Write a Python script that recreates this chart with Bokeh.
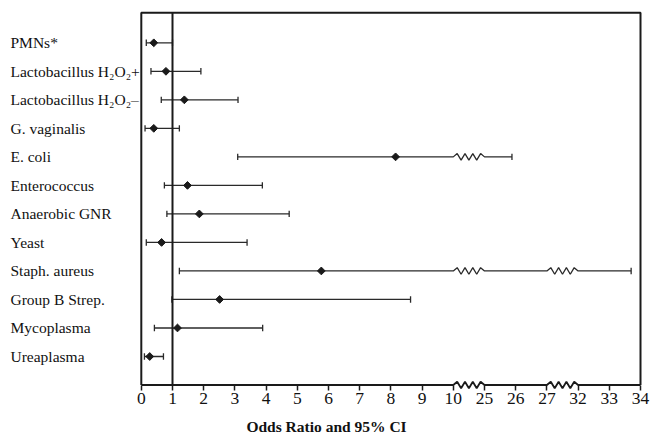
from bokeh.plotting import figure
from bokeh.models import Range1d, FixedTicker, ColumnDataSource, Title
from bokeh.embed import file_html
from bokeh.resources import INLINE
from bokeh.core.properties import value

# ---- data ----
categories = ["PMNs*", "Lactobacillus H\u2082O\u2082+", "Lactobacillus H\u2082O\u2082\u2013",
              "G. vaginalis", "E. coli", "Enterococcus", "Anaerobic GNR", "Yeast",
              "Staph. aureus", "Group B Strep.", "Mycoplasma", "Ureaplasma"]
odds_ratio = [0.40, 0.79, 1.38, 0.40, 8.15, 1.48, 1.86, 0.65, 5.77, 2.51, 1.16, 0.27]
ci_lower = [0.16, 0.31, 0.64, 0.12, 3.09, 0.74, 0.82, 0.16, 1.22, 0.98, 0.42, 0.10]
ci_upper = [1.00, 1.91, 3.10, 1.22, 25.88, 3.88, 4.74, 3.39, 33.70, 8.63, 3.89, 0.71]
tick_values = [0, 1, 2, 3, 4, 5, 6, 7, 8, 9, 10, 25, 26, 27, 32, 33, 34]
tick_labels = ["0", "1", "2", "3", "4", "5", "6", "7", "8", "9", "10",
               "25", "26", "27", "32", "33", "34"]
axis_breaks = [(10, 25), (27, 32)]
reference_or = 1
x_title = "Odds Ratio and 95% CI"

FONT = "Liberation Serif"
LINE = "#2a2a2a"


def to_pos(v):
    """Map an odds-ratio value to the broken-axis position."""
    off = 0
    for a, b in axis_breaks:
        if v >= b:
            off += (b - a) - 1
    return v - off


break_pos = [to_pos(a) for a, b in axis_breaks]  # start of each zigzag


def zigzag(x0, base, amp):
    xs, ys = [], []
    for k in range(9):
        xs.append(x0 + k / 8.0)
        if k == 0 or k == 8:
            ys.append(base)
        else:
            ys.append(base + (amp if k % 2 == 1 else -amp))
    return xs, ys


def broken_path(lo, hi, base, amp):
    """Polyline from lo to hi (values), with zigzags where it crosses an axis break."""
    xs, ys = [to_pos(lo)], [base]
    for (a, b), bp in zip(axis_breaks, break_pos):
        if lo < a and hi >= b:
            zx, zy = zigzag(bp, base, amp)
            xs += zx
            ys += zy
    xs.append(to_pos(hi))
    ys.append(base)
    return xs, ys


n = len(categories)
ys_rows = [n - i for i in range(n)]
x_max = to_pos(tick_values[-1])

W, H = 652, 439
FW, FH = 652, 390
px_x = 31.2       # px per axis unit
px_y = 28.52      # px per row
x_start = -140.8 / px_x
y_end = n + 42.3 / px_y
y_start = 1 - (FH - 356.0) / px_y
top = n + 30.0 / px_y
amp_y = 3.3 / px_y
cap_y = 3.2 / px_y

p = figure(frame_width=FW, frame_height=FH, output_backend="svg", toolbar_location=None,
           x_range=Range1d(x_start, x_start + FW / px_x), y_range=Range1d(y_start, y_end),
           y_axis_location=None, min_border_left=0, min_border_right=0,
           min_border_top=0, min_border_bottom=H - FH)
p.outline_line_color = None
p.grid.visible = False
p.background_fill_color = "white"
p.border_fill_color = "white"

# error bars (with zigzags across the breaks)
paths_x, paths_y = [], []
for lo, hi, y in zip(ci_lower, ci_upper, ys_rows):
    bx, by = broken_path(lo, hi, y, amp_y)
    paths_x.append(bx)
    paths_y.append(by)
p.multi_line(paths_x, paths_y, line_color=LINE, line_width=1.3)

# caps
cap_x = [to_pos(v) for v in ci_lower] + [to_pos(v) for v in ci_upper]
cap_yc = ys_rows + ys_rows
p.segment(x0=cap_x, x1=cap_x, y0=[y - cap_y for y in cap_yc], y1=[y + cap_y for y in cap_yc],
          line_color=LINE, line_width=1.3)

# point estimates
src = ColumnDataSource(dict(x=[to_pos(v) for v in odds_ratio], y=ys_rows))
p.scatter("x", "y", source=src, marker="square", angle=0.785398, size=5.5,
          fill_color="#1a1a1a", line_color="#1a1a1a")

# frame box (left, top, right) and the reference line at OR = 1
p.line([0, 0, x_max, x_max], [0, top, top, 0], line_color="#1a1a1a", line_width=2)
p.segment(x0=[to_pos(reference_or)], x1=[to_pos(reference_or)], y0=[0], y1=[top],
          line_color="#1a1a1a", line_width=2)

# axis baseline with zigzags
ax_x, ax_y = broken_path(tick_values[0], tick_values[-1], 0, amp_y)
p.line(ax_x, ax_y, line_color="#1a1a1a", line_width=1.8)

# category labels
lab_src = ColumnDataSource(dict(x=[x_start + 10.0 / px_x] * n, y=ys_rows, t=categories))
p.text("x", "y", text="t", source=lab_src, text_font=value(FONT), text_font_size="15.5px",
       text_align="left", text_baseline="middle", text_color="#111111")

# x axis
ax = p.xaxis[0]
ax.bounds = (0, x_max)
ax.ticker = FixedTicker(ticks=[to_pos(v) for v in tick_values])
ax.major_label_overrides = {to_pos(v): lab for v, lab in zip(tick_values, tick_labels)}
ax.axis_line_color = None
ax.major_tick_in = 5
ax.major_tick_out = 0
ax.major_tick_line_color = "#1a1a1a"
ax.major_tick_line_width = 1.5
ax.minor_tick_line_color = None
ax.major_label_standoff = 2
ax.major_label_text_font = FONT
ax.major_label_text_font_size = "17.5px"
ax.major_label_text_color = "#111111"

# axis title, centred under the plotted region as in the reference
p.add_layout(Title(text=x_title, align="center", offset=50, standoff=18,
                   text_font=FONT, text_font_size="15.5px", text_font_style="bold",
                   text_color="#111111"), "below")

open("out.html", "w").write(file_html(p, INLINE))
